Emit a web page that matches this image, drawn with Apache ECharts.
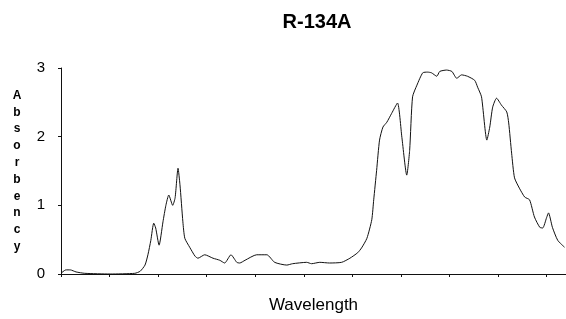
<!DOCTYPE html>
<html>
<head>
    <meta charset="utf-8" />
    <title>R-134A</title>
    <script src="https://cdn.jsdelivr.net/npm/echarts@6/dist/echarts.min.js"></script>
    <style>
        html, body { margin: 0; padding: 0; background: #fff; }
        #chart { width: 566px; height: 319px; }
    </style>
</head>
<body>
    <div id="chart"></div>
    <script>
        // 波长（按刻度单位）与吸收度
        var wavelength = [0.00, 0.10, 0.19, 0.31, 0.49, 1.01, 1.52, 1.63, 1.73, 1.79, 1.85, 1.91, 1.95, 2.02, 2.10, 2.16,
            2.22, 2.30, 2.35, 2.41, 2.45, 2.51, 2.55, 2.65, 2.76, 2.82, 2.96, 3.13, 3.27, 3.37, 3.50, 3.62, 3.68,
            3.79, 4.03, 4.24, 4.40, 4.65, 4.77, 5.06, 5.16, 5.33, 5.53, 5.78, 5.95, 6.11, 6.19, 6.30, 6.40, 6.44,
            6.50, 6.56, 6.63, 6.71, 6.81, 6.93, 7.02, 7.12, 7.18, 7.24, 7.33, 7.45, 7.55, 7.63, 7.74, 7.80, 7.94,
            8.05, 8.15, 8.25, 8.37, 8.52, 8.58, 8.66, 8.77, 8.83, 8.89, 8.97, 9.07, 9.18, 9.22, 9.28, 9.34, 9.44,
            9.55, 9.65, 9.75, 9.86, 9.92, 10.00, 10.04, 10.12, 10.23, 10.37];
        var absorbency = [0.01, 0.06, 0.06, 0.03, 0.01, 0.00, 0.01, 0.04, 0.13, 0.28, 0.49, 0.74, 0.67, 0.42, 0.76, 1.00,
            1.15, 1.00, 1.11, 1.54, 1.30, 0.76, 0.52, 0.39, 0.26, 0.23, 0.28, 0.23, 0.20, 0.16, 0.28, 0.17, 0.16,
            0.20, 0.28, 0.28, 0.17, 0.13, 0.15, 0.17, 0.15, 0.17, 0.16, 0.17, 0.23, 0.31, 0.38, 0.52, 0.79, 1.08,
            1.51, 1.95, 2.14, 2.21, 2.34, 2.49, 1.99, 1.44, 1.80, 2.58, 2.75, 2.93, 2.94, 2.93, 2.88, 2.95, 2.97,
            2.95, 2.85, 2.90, 2.88, 2.82, 2.72, 2.58, 1.95, 2.14, 2.43, 2.56, 2.46, 2.36, 2.20, 1.76, 1.40, 1.25,
            1.12, 1.08, 0.83, 0.68, 0.67, 0.82, 0.89, 0.68, 0.49, 0.39];
        var yTicks = [0, 1, 2, 3];
        var yName = 'Absorbency';

        var points = wavelength.map(function (w, i) { return [w, absorbency[i]]; });

        var chart = echarts.init(document.getElementById('chart'));
        chart.setOption({
            animation: false,
            title: {
                text: 'R-134A',
                left: 312,
                top: 7,
                textAlign: 'center',
                textStyle: { fontFamily: 'Liberation Sans', fontSize: 20, fontWeight: 'bold', color: '#000' }
            },
            grid: { left: 61, right: 0, top: 68, bottom: 45 },
            xAxis: {
                type: 'value',
                min: 0,
                max: 10.4,
                interval: 1,
                name: 'Wavelength',
                nameLocation: 'middle',
                nameGap: 23,
                nameTextStyle: { fontFamily: 'Liberation Sans', fontSize: 17, color: '#000' },
                axisLine: { lineStyle: { color: '#111', width: 1 } },
                axisTick: { length: 3, lineStyle: { color: '#111' } },
                axisLabel: { show: false },
                splitLine: { show: false }
            },
            yAxis: {
                type: 'value',
                min: yTicks[0],
                max: yTicks[yTicks.length - 1],
                interval: 1,
                name: yName.split('').join('\n'),
                nameLocation: 'middle',
                nameRotate: 0,
                nameGap: 44,
                nameTextStyle: {
                    fontFamily: 'Liberation Sans', fontSize: 12, fontWeight: 'bold', color: '#000',
                    lineHeight: 16.8, align: 'center', verticalAlign: 'middle'
                },
                axisLine: { show: true, lineStyle: { color: '#111', width: 1 } },
                axisTick: { show: true, length: 3, lineStyle: { color: '#111' } },
                axisLabel: { fontFamily: 'Liberation Sans', fontSize: 15, color: '#000', margin: 16 },
                splitLine: { show: false }
            },
            series: [{
                type: 'line',
                data: points,
                symbol: 'none',
                smooth: 0.2,
                lineStyle: { color: '#111', width: 1 }
            }]
        });
    </script>
</body>
</html>
